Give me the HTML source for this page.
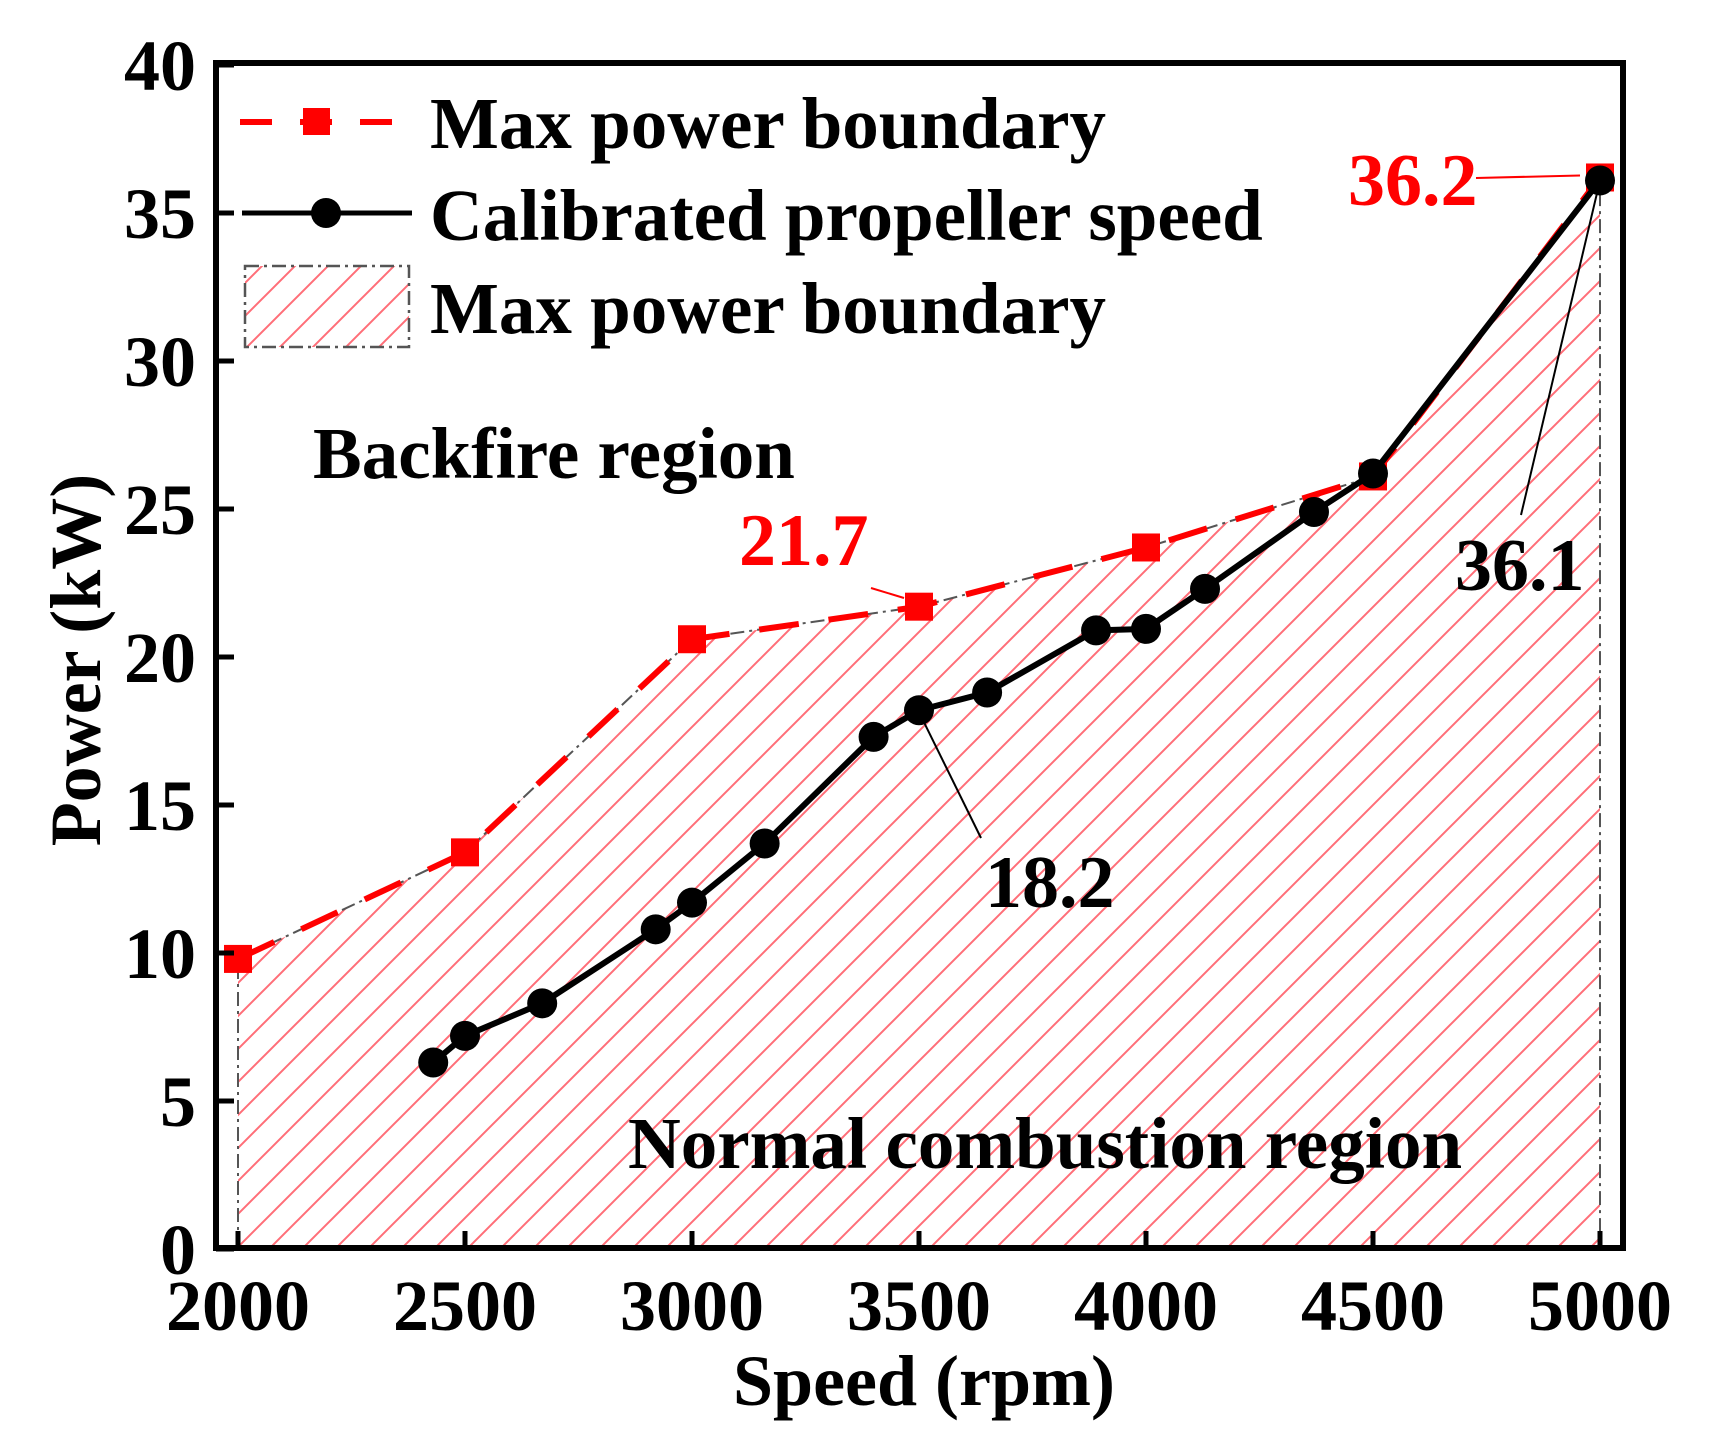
<!DOCTYPE html>
<html><head><meta charset="utf-8"><style>
html,body{margin:0;padding:0;background:#fff;}
svg{display:block;font-family:"Liberation Serif",serif;font-weight:bold;}
</style></head><body>
<svg id="chart" width="1710" height="1437" viewBox="0 0 1710 1437">
<defs>
<pattern id="hatch" patternUnits="userSpaceOnUse" width="33" height="33">
<path d="M-2,35 L35,-2 M-10,10 L10,-10 M23,43 L43,23" stroke="#ff6e78" stroke-width="2"/>
</pattern>
<clipPath id="plotclip"><rect x="216" y="63" width="1407" height="1185"/></clipPath>
</defs>
<g id="plot" clip-path="url(#plotclip)"></g>
<rect x="216" y="63" width="1407" height="1185" fill="none" stroke="#000" stroke-width="6"/>
<g id="ticks"></g>
<text x="924" y="1405" font-size="72" text-anchor="middle">Speed (rpm)</text>
<text transform="translate(100,660) rotate(-90)" font-size="72" text-anchor="middle">Power (kW)</text>
<g>
<line x1="240" y1="122" x2="394" y2="122" stroke="#f00" stroke-width="6" stroke-dasharray="32 28"/>
<rect x="303" y="108" width="27" height="27" fill="#f00"/>
<text x="430" y="148" font-size="73">Max power boundary</text>
<line x1="242" y1="213" x2="412" y2="213" stroke="#000" stroke-width="5"/>
<circle cx="326" cy="213" r="15" fill="#000"/>
<text x="430" y="240" font-size="73">Calibrated propeller speed</text>
<rect x="245" y="266" width="164" height="81" fill="url(#hatch)" stroke="#555" stroke-width="2.5" stroke-dasharray="14 5 3 5"/>
<text x="430" y="333" font-size="73">Max power boundary</text>
</g>
<text x="313" y="478" font-size="73">Backfire region</text>
<text x="628" y="1168" font-size="73">Normal combustion region</text>
<g id="annot"></g>
<script>
const maxSpeed=[2000,2500,3000,3500,4000,4500,5000];
const maxPower=[9.8,13.4,20.6,21.7,23.7,26.1,36.2];
const calSpeed=[2430,2500,2670,2920,3000,3160,3400,3500,3650,3890,4000,4130,4370,4500,5000];
const calPower=[6.3,7.2,8.3,10.8,11.7,13.7,17.3,18.2,18.8,20.9,20.95,22.3,24.9,26.2,36.1];
const xTicks=[2000,2500,3000,3500,4000,4500,5000];
const yTicks=[0,5,10,15,20,25,30,35,40];
const X=v=>238+(v-2000)*(1600-238)/3000;
const Y=v=>1249-v*29.6;
const NS="http://www.w3.org/2000/svg";
function mk(tag,attrs,parent){const e=document.createElementNS(NS,tag);for(const k in attrs)e.setAttribute(k,attrs[k]);parent.appendChild(e);return e;}
const plot=document.getElementById('plot');
let d='M'+X(maxSpeed[0])+','+Y(0);
maxSpeed.forEach((s,i)=>{d+=' L'+X(s)+','+Y(maxPower[i]);});
d+=' L'+X(maxSpeed[maxSpeed.length-1])+','+Y(0)+' Z';
const area=mk('path',{d:d,fill:'url(#hatch)'},plot);


const bd='M'+X(maxSpeed[0])+','+Y(0)+' '+maxSpeed.map((s,i)=>'L'+X(s)+','+Y(maxPower[i])).join(' ')+' L'+X(maxSpeed[maxSpeed.length-1])+','+Y(0);
const outline=mk('path',{d:bd,fill:'none',stroke:'#555','stroke-width':2,'stroke-dasharray':'14 5 3 5'},plot);


const mpts=maxSpeed.map((s,i)=>X(s)+','+Y(maxPower[i])).join(' ');
const ml=mk('polyline',{points:mpts,fill:'none',stroke:'#f00','stroke-width':6,'stroke-dasharray':'40 30'},plot);


maxSpeed.forEach((s,i)=>{const r=mk('rect',{x:X(s)-14,y:Y(maxPower[i])-14,width:28,height:28,fill:'#f00'},plot);

});
const cpts=calSpeed.map((s,i)=>X(s)+','+Y(calPower[i])).join(' ');
const cl=mk('polyline',{points:cpts,fill:'none',stroke:'#000','stroke-width':6},plot);


calSpeed.forEach((s,i)=>{const c=mk('circle',{cx:X(s),cy:Y(calPower[i]),r:15,fill:'#000'},plot);

});
const tg=document.getElementById('ticks');
xTicks.forEach(t=>{const l=mk('line',{x1:X(t),y1:1248,x2:X(t),y2:1231,stroke:'#000','stroke-width':5},tg);


const tx=mk('text',{x:X(t),y:1330,'font-size':72,'text-anchor':'middle'},tg);tx.textContent=t;

});
yTicks.forEach(t=>{const l=mk('line',{x1:216,y1:Y(t),x2:234,y2:Y(t),stroke:'#000','stroke-width':5},tg);


const tx=mk('text',{x:196,y:Y(t)+25,'font-size':72,'text-anchor':'end'},tg);tx.textContent=t;

});
const an=document.getElementById('annot');
function note(txt,tx,ty,col,lx1,ly1,lx2,ly2,name){
const l=mk('line',{x1:lx1,y1:ly1,x2:lx2,y2:ly2,stroke:col,'stroke-width':2},an);


const t=mk('text',{x:tx,y:ty,'font-size':74,fill:col},an);t.textContent=txt;

}
const i5=maxSpeed.length-1;
note(maxPower[i5].toFixed(1),1348,205,'#f00',1476,178,X(maxSpeed[i5])-20,Y(maxPower[i5])-2,'label-36-2');
note(calPower[calPower.length-1].toFixed(1),1455,590,'#000',1521,515,X(5000),Y(calPower[calPower.length-1]),'label-36-1');
note(maxPower[3].toFixed(1),739,565,'#f00',871,588,904,598,'label-21-7');
note(calPower[7].toFixed(1),985,907,'#000',981,838,X(3500)+5,Y(calPower[7])+12,'label-18-2');
</script>
</svg>
</body></html>
